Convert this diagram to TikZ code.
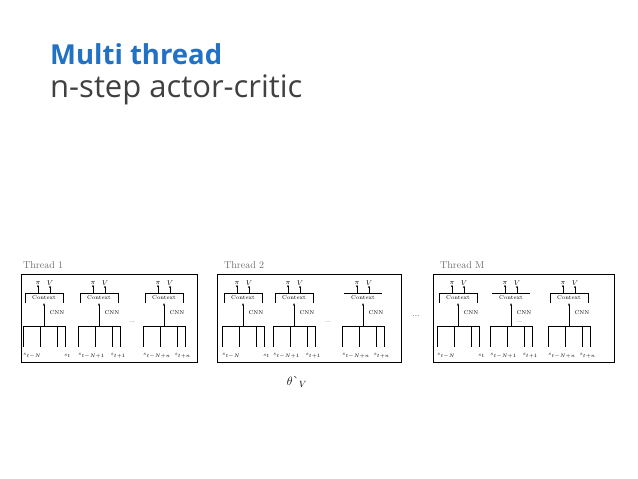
\documentclass[tikz,border=0pt]{standalone}
\usepackage{fontspec}
\setsansfont{Open Sans}
\usepackage{amsmath}
\usepackage{tikz}
\usetikzlibrary{arrows.meta, positioning}
\definecolor{mtbleu}{RGB}{33,113,196}
\definecolor{mtgris}{RGB}{64,64,64}
\definecolor{mtclair}{RGB}{110,110,110}

\tikzset{
  tiny/.style={font=\fontsize{5.5}{6}\selectfont, inner sep=0pt},
  outlbl/.style={font=\fontsize{7}{7}\selectfont, inner sep=0pt},
  ctxbox/.style={tiny, minimum width=37pt, minimum height=10pt},
  inlbl/.style={font=\fontsize{5.5}{6}\selectfont, inner sep=0pt},
  thrbox/.style={draw, line width=0.8pt, minimum width=#1, minimum height=88pt,
                 anchor=north west, inner sep=0pt},
  thrlbl/.style={font=\fontsize{10}{10}\selectfont, text=mtclair, inner sep=0pt, anchor=base west},
  sides/.style={},
  nosides/.style={draw=none},
  up/.style={-{Stealth[length=2.5pt,width=2pt]}, line width=0.4pt}
}

% one worker unit: name, left x, left input, right input, bracket style
\newcommand{\ctxunit}[5]{
  \node[outlbl] (#1-pi) at (#2+15,283) {$\pi$};
  \node[outlbl] (#1-v) at (#2+27,283) {$V$};
  \node[ctxbox] (#1-ctx) at (#2+21,298) {Context};
  \draw (#1-ctx.north west) -- (#1-ctx.north east);
  \draw[#5] (#1-ctx.north west) -- (#1-ctx.south west)
            (#1-ctx.north east) -- (#1-ctx.south east);
  \draw[up] (#1-ctx.north -| #1-pi) -- (#1-pi);
  \draw[up] (#1-ctx.north -| #1-v) -- (#1-v);
  \node[tiny] (#1-cnn) at (#2+34,313) {CNN};
  \coordinate (#1-l) at (#2,326);
  \coordinate (#1-r) at (#2+42,326);
  \coordinate (#1-m) at (#2+21,326);
  \draw[up] (#1-m) -- (#1-ctx.south);
  \draw (#1-l) -- (#1-r);
  \foreach \dx in {0,17,34,42}
    \draw (#2+\dx,326) -- (#2+\dx,347);
  \node[inlbl, anchor=west] (#1-in1) at (#2,356) {#3};
  \node[inlbl, anchor=east] (#1-in2) at (#2+48,356) {#4};
}

\begin{document}
\begin{tikzpicture}[x=1pt, y=-1pt]
  \useasboundingbox (0,0) rectangle (638,479);

  % title
  \node[anchor=base west, inner sep=0pt, text=mtbleu, font=\sffamily\bfseries\fontsize{27.5}{30}\selectfont]
    (titre) at (50,64) {Multi thread};
  \node[anchor=base west, inner sep=0pt, text=mtgris, font=\sffamily\fontsize{31}{34}\selectfont]
    (soustitre) at (50,97) {n-step actor-critic};

  % threads
  \node[thrbox=176pt] (thr1) at (21,274) {};
  \node[thrbox=184pt] (thr2) at (217,274) {};
  \node[thrbox=181pt] (thrM) at (433,274) {};
  \node[thrlbl] (thr1-lbl) at (23,268) {Thread 1};
  \node[thrlbl] (thr2-lbl) at (224,268) {Thread 2};
  \node[thrlbl] (thrM-lbl) at (440,268) {Thread M};

  \ctxunit{a1}{23}{$s_{t-N}$}{$s_t$}{sides}
  \ctxunit{a2}{78}{$s_{t-N+1}$}{$s_{t+1}$}{sides}
  \ctxunit{a3}{143}{$s_{t-N+n}$}{$s_{t+n}$}{sides}
  \ctxunit{b1}{222}{$s_{t-N}$}{$s_t$}{sides}
  \ctxunit{b2}{273}{$s_{t-N+1}$}{$s_{t+1}$}{sides}
  \ctxunit{b3}{342}{$s_{t-N+n}$}{$s_{t+n}$}{nosides}
  \ctxunit{c1}{437}{$s_{t-N}$}{$s_t$}{sides}
  \ctxunit{c2}{490}{$s_{t-N+1}$}{$s_{t+1}$}{nosides}
  \ctxunit{c3}{548}{$s_{t-N+n}$}{$s_{t+n}$}{sides}

  \node[tiny] (pts1) at (132,322) {...};
  \node[tiny] (pts2) at (328,322) {...};
  \node[tiny] (ptsM) at (520,322) {...};
  \node[inner sep=0pt, font=\fontsize{8}{8}\selectfont] (ptsT) at (416,316) {...};

  \node[inner sep=0pt, font=\fontsize{13}{13}\selectfont] (theta) at (297,382) {$\theta\text{\`{}}_V$};
\end{tikzpicture}
\end{document}
